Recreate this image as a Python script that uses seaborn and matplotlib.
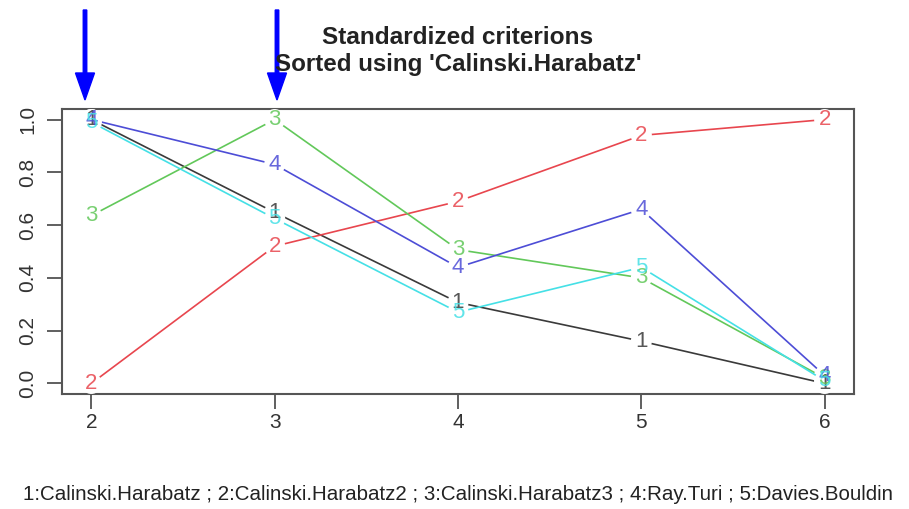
import matplotlib
matplotlib.use("Agg")
import matplotlib.pyplot as plt
import matplotlib.patches as mpatches
import seaborn as sns
import pandas as pd

# cluster counts and standardized criterion values
n_clusters = [2, 3, 4, 5, 6]
calinski_harabatz = [1.00, 0.648, 0.307, 0.16, 0.0]
calinski_harabatz2 = [0.0, 0.52, 0.69, 0.94, 1.0]
calinski_harabatz3 = [0.636, 1.00, 0.507, 0.40, 0.02]
ray_turi = [1.00, 0.83, 0.44, 0.66, 0.03]
davies_bouldin = [0.99, 0.625, 0.27, 0.44, 0.01]

criteria = ["Calinski.Harabatz", "Calinski.Harabatz2", "Calinski.Harabatz3",
            "Ray.Turi", "Davies.Bouldin"]
series = [calinski_harabatz, calinski_harabatz2, calinski_harabatz3,
          ray_turi, davies_bouldin]
colors = ["#3a3a3a", "#e8464e", "#62c85a", "#4d4dd6", "#45e0e6"]
y_ticks = [0.0, 0.2, 0.4, 0.6, 0.8, 1.0]

sns.set_style("white")
plt.rcParams["font.family"] = ["Liberation Sans", "DejaVu Sans"]

df = pd.DataFrame({
    "k": n_clusters * len(series),
    "value": [v for s in series for v in s],
    "criterion": [c for c, s in zip(criteria, series) for _ in s],
})

fig = plt.figure(figsize=(9.09, 5.09), dpi=100)
ax = fig.add_axes([62 / 909, 1 - 394 / 509, 792 / 909, 285 / 509])

label_size = 16
for i, (crit, col) in enumerate(zip(criteria, colors)):
    sub = df[df["criterion"] == crit]
    sns.lineplot(data=sub, x="k", y="value", color=col, lw=1.2, ax=ax,
                 zorder=2 + 2 * i, legend=False)
    # white discs open a gap in the line around each numbered point
    sns.scatterplot(data=sub, x="k", y="value", color="white", s=230,
                    marker="o", edgecolor="none", linewidth=0, ax=ax,
                    zorder=3 + 2 * i, legend=False)

# point numbers drawn last so coinciding ones show through each other
for i, (crit, col) in enumerate(zip(criteria, colors)):
    sub = df[df["criterion"] == crit]
    for kx, vy in zip(sub["k"], sub["value"]):
        ax.text(kx, vy, str(i + 1), color=col, fontsize=label_size,
                ha="center", va="center", zorder=20 + i, alpha=0.85)

ax.set_xlim(1.84, 6.16)
ax.set_ylim(-0.04, 1.04)
ax.set_xticks(n_clusters)
ax.set_yticks(y_ticks)
ax.set_yticklabels([f"{t:.1f}" for t in y_ticks], rotation=90, va="center")
ax.set_xlabel("")
ax.set_ylabel("")
ax.tick_params(axis="both", direction="out", length=11, width=1.2,
               color="#444444", labelsize=15, labelcolor="#333333",
               bottom=True, left=True)
ax.tick_params(axis="x", pad=3)
ax.tick_params(axis="y", pad=7)
for sp in ax.spines.values():
    sp.set_color("#555555")
    sp.set_linewidth(1.5)


def fit_text(x, y, s, width_px, **kw):
    """Place a figure text and scale its size to span width_px pixels."""
    t = fig.text(x, y, s, ha="center", va="center", **kw)
    r = fig.canvas.get_renderer()
    w = t.get_window_extent(renderer=r).width
    t.set_fontsize(t.get_fontsize() * width_px / w)
    return t


fit_text(458 / 909, 1 - 37 / 509, "Standardized criterions", 271,
         fontsize=16, fontweight="bold", color="#222222")
fit_text(458 / 909, 1 - 65 / 509, "Sorted using 'Calinski.Harabatz'", 366,
         fontsize=16, fontweight="bold", color="#222222")
fit_text(458 / 909, 1 - 494 / 509,
         " ; ".join(f"{i + 1}:{c}" for i, c in enumerate(criteria)), 871,
         fontsize=15, color="#222222")

# pointer arrows above the first two cluster counts
for xp in (85, 277):
    fig.add_artist(mpatches.FancyArrow(
        xp / 909, 1 - 10 / 509, 0, -(90 / 509), width=3.5 / 909,
        head_width=19 / 909, head_length=27 / 509,
        length_includes_head=True, color="#0000ff",
        transform=fig.transFigure))

fig.savefig("out.png", dpi=100)
